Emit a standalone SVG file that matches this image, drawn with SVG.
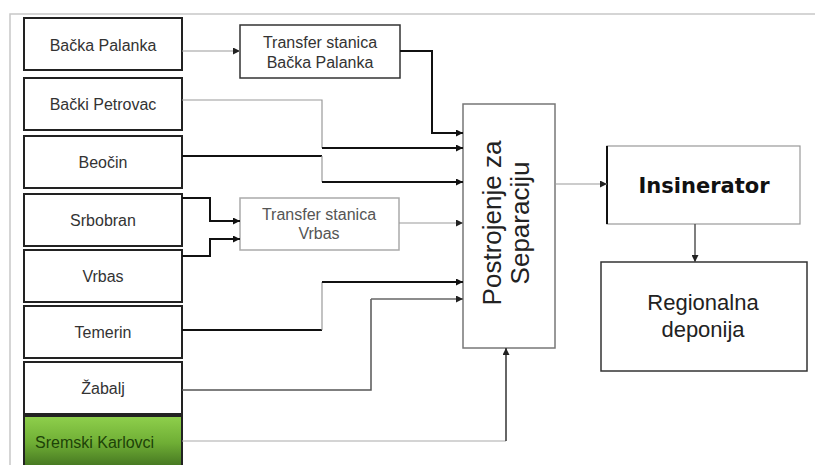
<svg xmlns="http://www.w3.org/2000/svg" width="815" height="465" viewBox="0 0 815 465">
<style>
.src{fill:#fff;stroke:#222;stroke-width:2}
.lbl{font-family:"Liberation Sans",Arial,sans-serif;font-size:16px;fill:#333;text-anchor:middle}
.tbox{fill:#fff;stroke-width:1.5}
.k{fill:none;stroke:#111;stroke-width:2}
.g{fill:none;stroke:#9a9a9a;stroke-width:1.2}
.m{fill:none;stroke:#555;stroke-width:1.5}
.big{font-family:"Liberation Sans",Arial,sans-serif;fill:#222;text-anchor:middle}
</style>
<defs>
<marker id="ak" viewBox="0 0 8 8" refX="8" refY="4" markerWidth="8" markerHeight="7" markerUnits="userSpaceOnUse" orient="auto"><path d="M0,0 L8,4 L0,8 z" fill="#111"/></marker>
<marker id="ag" viewBox="0 0 8 8" refX="8" refY="4" markerWidth="8" markerHeight="7" markerUnits="userSpaceOnUse" orient="auto"><path d="M0,0 L8,4 L0,8 z" fill="#222"/></marker>
<linearGradient id="grn" x1="0" y1="0" x2="0" y2="1">
<stop offset="0" stop-color="#8fd04c"/>
<stop offset="0.5" stop-color="#6fae35"/>
<stop offset="1" stop-color="#3f6e1e"/>
</linearGradient>
</defs>
<rect width="815" height="465" fill="#fff"/>
<path d="M10,465 V14 H815" fill="none" stroke="#c8c8c8" stroke-width="1.5"/>

<g id="n-backa-palanka"><rect class="src" x="24" y="18" width="158" height="52"/><text class="lbl" x="103" y="51">Bačka Palanka</text></g>
<g id="n-backi-petrovac"><rect class="src" x="24" y="78" width="158" height="52"/><text class="lbl" x="103" y="110">Bački Petrovac</text></g>
<g id="n-beocin"><rect class="src" x="24" y="136" width="158" height="52"/><text class="lbl" x="103" y="168">Beočin</text></g>
<g id="n-srbobran"><rect class="src" x="24" y="194" width="158" height="52"/><text class="lbl" x="103" y="226">Srbobran</text></g>
<g id="n-vrbas"><rect class="src" x="24" y="250" width="158" height="52"/><text class="lbl" x="103" y="282">Vrbas</text></g>
<g id="n-temerin"><rect class="src" x="24" y="306" width="158" height="52"/><text class="lbl" x="103" y="338">Temerin</text></g>
<g id="n-zabalj"><rect class="src" x="24" y="362" width="158" height="52"/><text class="lbl" x="103" y="394">Žabalj</text></g>
<g id="n-sremski-karlovci"><rect x="24" y="416" width="158" height="54" fill="url(#grn)" stroke="#222" stroke-width="2"/><text class="lbl" x="35" y="448" style="text-anchor:start;fill:#1d4208">Sremski Karlovci</text></g>

<g id="n-transfer-bp"><rect class="tbox" x="240" y="25" width="160" height="53" stroke="#333"/><text class="lbl" x="320" y="48">Transfer stanica</text><text class="lbl" x="320" y="68">Bačka Palanka</text></g>
<g id="n-transfer-vrbas"><rect class="tbox" x="240" y="198" width="159" height="52" stroke="#aaa"/><text class="lbl" x="319" y="220" style="fill:#555">Transfer stanica</text><text class="lbl" x="319" y="239" style="fill:#555">Vrbas</text></g>

<g id="n-postrojenje"><rect x="463" y="104" width="92" height="244" fill="#fff" stroke="#777" stroke-width="1.5"/>
<text class="big" style="font-size:26px" transform="translate(501,223) rotate(-90)"><tspan x="0" y="0">Postrojenje za</tspan><tspan x="0" y="28">Separaciju</tspan></text></g>

<g id="n-insinerator"><rect x="607" y="146" width="193" height="78" fill="#fff" stroke="#999" stroke-width="1.2"/><line x1="607" y1="146" x2="607" y2="224" stroke="#111" stroke-width="2"/>
<text x="704" y="193" style="font-family:'DejaVu Sans',Verdana,sans-serif;font-weight:bold;font-size:21px;fill:#111;text-anchor:middle">Insinerator</text></g>

<g id="n-regionalna"><rect x="601" y="262" width="206" height="109" fill="#fff" stroke="#333" stroke-width="1.5"/>
<text class="big" style="font-size:22px" x="703" y="310">Regionalna</text><text class="big" style="font-size:22px" x="703" y="337">deponija</text></g>

<g id="connectors">
<path class="g" d="M182,51 H240" marker-end="url(#ag)"/>
<path class="k" d="M400,51 H432 V133 H463" marker-end="url(#ak)"/>
<path class="g" d="M182,100 H322 V148"/>
<path class="k" d="M322,148 H463" marker-end="url(#ak)"/>
<path class="k" d="M182,156 H322"/>
<path class="g" d="M322,156 V182"/>
<path class="k" d="M322,182 H463" marker-end="url(#ak)"/>
<path class="k" d="M182,198 H210 V221 H240" marker-end="url(#ak)"/>
<path class="k" d="M182,256 H210 V239 H240" marker-end="url(#ak)"/>
<path class="g" d="M399,223 H463" marker-end="url(#ag)"/>
<path class="k" d="M182,330 H322"/>
<path class="g" d="M322,330 V282"/>
<path class="k" d="M322,282 H463" marker-end="url(#ak)"/>
<path class="m" d="M182,390 H371 V299"/>
<path class="m" d="M371,299 H463" marker-end="url(#ag)" style="stroke:#666"/>
<path class="g" d="M182,441 H506" style="stroke:#aaa"/>
<path class="m" d="M506,441 V348" marker-end="url(#ag)" style="stroke:#333"/>
<path class="g" d="M555,184 H607" marker-end="url(#ag)"/>
<path class="m" d="M695,224 V262" marker-end="url(#ag)"/>
</g>
</svg>
